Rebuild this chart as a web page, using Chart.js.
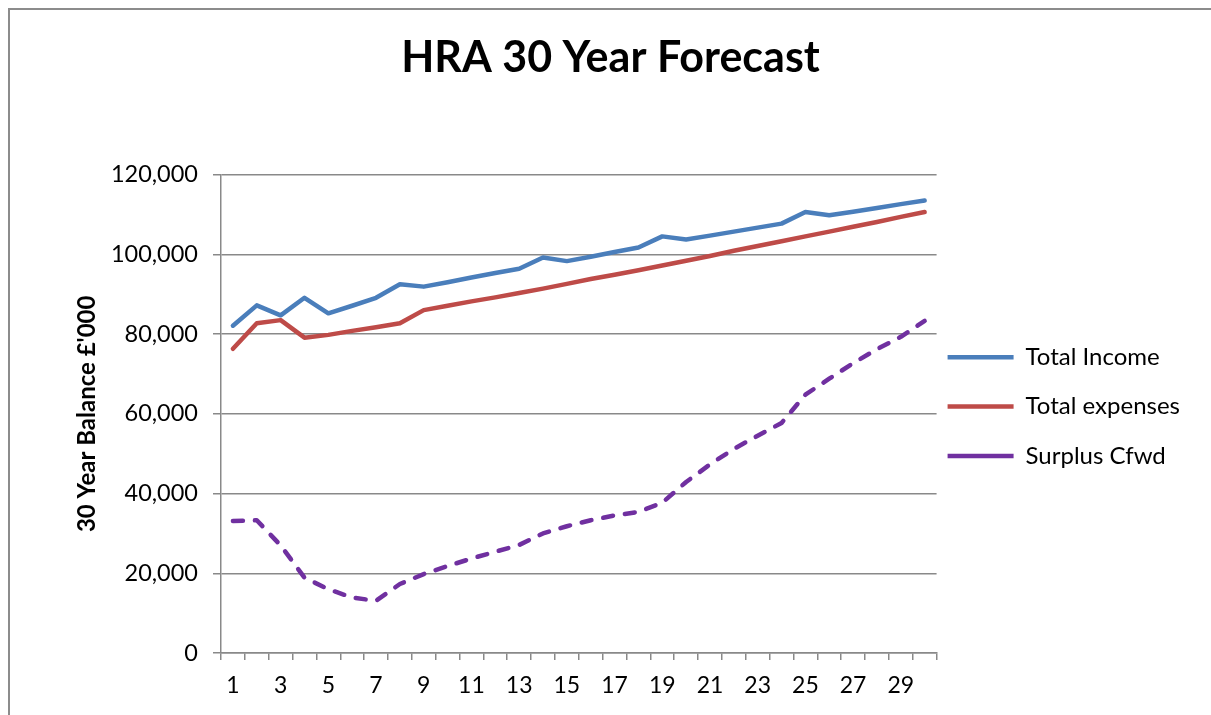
<!DOCTYPE html>
<html>
<head>
<meta charset="utf-8">
<title>HRA 30 Year Forecast</title>
<script src="https://cdn.jsdelivr.net/npm/chart.js@4"></script>
<style>
    body { margin: 0; background: #ffffff; }
    #frame {
        position: absolute; left: 8px; top: 8px; width: 1300px; height: 800px;
        border-left: 2px solid #8c8c8c; border-top: 2px solid #8c8c8c;
    }
    #wrap { position: absolute; left: 0; top: 0; width: 1211px; height: 715px; }
</style>
</head>
<body>
<div id="frame"></div>
<div id="wrap"><canvas id="forecast"></canvas></div>
<script>
/* --------------- Data (£'000) --------------------- */
const years = ["1", "2", "3", "4", "5", "6", "7", "8", "9", "10",
    "11", "12", "13", "14", "15", "16", "17", "18", "19", "20",
    "21", "22", "23", "24", "25", "26", "27", "28", "29", "30"];

const totalIncome = [82100, 87200, 84700, 89100, 85200, 87100, 89100, 92500, 91900, 93000,
    94200, 95300, 96400, 99200, 98300, 99400, 100600, 101700, 104500, 103700,
    104700, 105700, 106700, 107700, 110600, 109800, 110700, 111600, 112600, 113500];

const totalExpenses = [76300, 82700, 83500, 79100, 79800, 80800, 81700, 82700, 86000, 87100,
    88200, 89200, 90300, 91400, 92600, 93800, 94900, 96000, 97200, 98400,
    99600, 100900, 102100, 103300, 104500, 105700, 106900, 108100, 109400, 110600];

const surplusCfwd = [33100, 33300, 27000, 18900, 16000, 13900, 13100, 17300, 19800, 21800,
    23700, 25400, 27100, 30000, 31800, 33300, 34500, 35400, 37700, 42900,
    47300, 51200, 54500, 57700, 64800, 68800, 72700, 76200, 79300, 83300];

const seriesNames = ["Total Income", "Total expenses", "Surplus Cfwd"];
const seriesColors = ["#4a7ebb", "#be4b48", "#7030a0"];

/* --------------- Defaults --------------------- */
Chart.defaults.font.family = "Lato, 'Open Sans', sans-serif";
Chart.defaults.color = "#000000";

const gridGrey = "#898989";

const lineStyle = (color, dashed) => ({
    borderColor: color,
    backgroundColor: color,
    borderWidth: 4.5,
    borderDash: dashed ? [10, 12] : [],
    borderCapStyle: "round",
    borderJoinStyle: "round",
    pointRadius: 0,
    pointHoverRadius: 0,
    tension: 0,
    fill: false,
});

/* --------------- Chart --------------------- */
const forecastChart = new Chart(document.getElementById("forecast"), {
    type: "line",
    data: {
        labels: years,
        datasets: [
            { label: seriesNames[0], data: totalIncome, ...lineStyle(seriesColors[0], false) },
            { label: seriesNames[1], data: totalExpenses, ...lineStyle(seriesColors[1], false) },
            { label: seriesNames[2], data: surplusCfwd, ...lineStyle(seriesColors[2], true) },
        ],
    },
    options: {
        responsive: true,
        maintainAspectRatio: false,
        animation: false,
        layout: { padding: { left: 31, right: 21, top: 0, bottom: 0 } },
        plugins: {
            tooltip: { enabled: false },
            title: {
                display: true,
                text: "HRA 30 Year Forecast",
                font: { size: 43, weight: "bold" },
                padding: { top: 32, bottom: 91 },
            },
            legend: {
                position: "right",
                fullSize: false,
                labels: {
                    usePointStyle: true,
                    pointStyle: "line",
                    pointStyleWidth: 66,
                    boxWidth: 66,
                    padding: 11,
                    font: { size: 24, lineHeight: 1.6 },
                    // one-line arrays so the item height follows lineHeight
                    generateLabels: (chart) =>
                        Chart.defaults.plugins.legend.labels.generateLabels(chart)
                            .map((item) => ({ ...item, text: [item.text] })),
                },
            },
        },
        scales: {
            x: {
                offset: true,
                grid: {
                    offset: true,
                    drawOnChartArea: false,
                    drawTicks: true,
                    tickLength: 7,
                    color: gridGrey,
                    lineWidth: 1.5,
                },
                border: { display: true, color: gridGrey, width: 1.5 },
                ticks: {
                    autoSkip: false,
                    maxRotation: 0,
                    padding: 12,
                    font: { size: 23 },
                    callback: (value, index) => (index % 2 === 0 ? years[index] : ""),
                },
                afterFit: (scale) => { scale.height = 62; },
            },
            y: {
                min: 0,
                max: 120000,
                grid: { color: gridGrey, lineWidth: 1.5, tickLength: 8 },
                border: { display: true, color: gridGrey, width: 1.5 },
                ticks: {
                    stepSize: 20000,
                    padding: 15,
                    font: { size: 23.5 },
                    callback: (value) => value.toLocaleString("en-GB"),
                },
                title: {
                    display: true,
                    text: "30 Year Balance £'000",
                    font: { size: 24, weight: "bold" },
                    padding: { top: 42, bottom: 0 },
                },
                afterFit: (scale) => { scale.width = 190; },
            },
        },
    },
});
</script>
</body>
</html>
